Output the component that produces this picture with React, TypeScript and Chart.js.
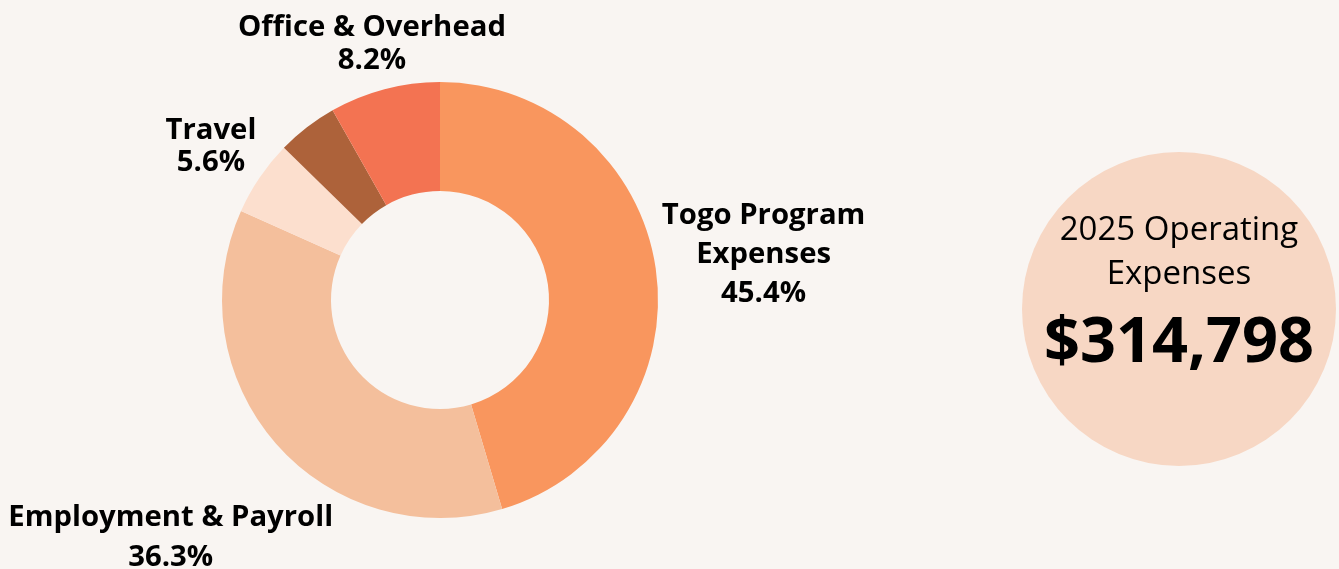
import React, { useEffect, useRef } from "react";
import { Chart, registerables } from "chart.js";

Chart.register(...registerables);

const categories = ["Togo Program Expenses", "Employment & Payroll", "Travel", "Other", "Office & Overhead"];
const shares = [45.4, 36.3, 5.6, 4.5, 8.2];
const sliceColors = ["#F9965E", "#F4BF9C", "#FCDFCE", "#AD623A", "#F37352"];
const labelLines = [["Togo Program", "Expenses"], ["Employment & Payroll"], ["Travel"], [], ["Office & Overhead"]];
const totalTitle = ["2025 Operating", "Expenses"];
const totalAmount = 314798;

const BG = "#F9F5F2";
const FONT = "'Open Sans', 'Noto Sans', sans-serif";

// label placement (radial distance from centre, line spacing)
const labelDist = [327, 358, 277, 0, 267];
const labelLineH = [39, 40, 32, 0, 33];

const labelPlugin = {
  id: "sliceLabels",
  afterDraw(chart: any) {
    const ctx = chart.ctx as CanvasRenderingContext2D;
    const meta = chart.getDatasetMeta(0);
    ctx.save();
    ctx.fillStyle = "#000";
    ctx.textAlign = "center";
    ctx.textBaseline = "alphabetic";
    const fs = 29.3;
    ctx.font = `bold ${fs}px ${FONT}`;
    meta.data.forEach((el: any, i: number) => {
      if (!labelLines[i] || labelLines[i].length === 0) return;
      const p = el.getProps(["x", "y", "startAngle", "endAngle"], true);
      const mid = (p.startAngle + p.endAngle) / 2;
      const cx = p.x + Math.cos(mid) * labelDist[i];
      const cy = p.y + Math.sin(mid) * labelDist[i];
      const lines = [...labelLines[i], shares[i].toFixed(1) + "%"];
      const n = lines.length;
      lines.forEach((t, k) => {
        const yMid = cy + (k - (n - 1) / 2) * labelLineH[i];
        ctx.fillText(t, cx, yMid + fs * 0.357);
      });
    });
    ctx.restore();
  },
};

const totalPlugin = {
  id: "totalBubble",
  afterDraw(chart: any) {
    const ctx = chart.ctx as CanvasRenderingContext2D;
    const cx = 1179;
    const cy = 309;
    ctx.save();
    ctx.fillStyle = "#F7D7C4";
    ctx.beginPath();
    ctx.arc(cx, cy, 157, 0, Math.PI * 2);
    ctx.fill();
    ctx.fillStyle = "#000";
    ctx.textAlign = "center";
    ctx.textBaseline = "alphabetic";
    ctx.font = `400 33px ${FONT}`;
    ctx.fillText(totalTitle[0], cx, 240);
    ctx.fillText(totalTitle[1], cx, 284);
    ctx.font = `bold 63px ${FONT}`;
    ctx.fillText("$" + totalAmount.toLocaleString("en-US"), cx, 362);
    ctx.restore();
  },
};

export default function App() {
  const ref = useRef<HTMLCanvasElement | null>(null);
  useEffect(() => {
    document.body.style.margin = "0";
    document.body.style.background = BG;
    if (!ref.current) return;
    const chart = new Chart(ref.current, {
      type: "doughnut",
      data: {
        labels: categories,
        datasets: [
          {
            data: shares,
            backgroundColor: sliceColors,
            borderWidth: 0,
          },
        ],
      },
      options: {
        responsive: false,
        animation: false,
        cutout: "50%",
        layout: { padding: { top: 82, bottom: 51, left: 0, right: 459 } },
        plugins: {
          legend: { display: false },
          tooltip: { enabled: false },
        },
      },
      plugins: [labelPlugin, totalPlugin],
    });
    return () => chart.destroy();
  }, []);
  return (
    <div style={{ width: 1339, height: 569, background: BG, overflow: "hidden" }}>
      <canvas ref={ref} width={1339} height={569} style={{ display: "block" }} />
    </div>
  );
}
